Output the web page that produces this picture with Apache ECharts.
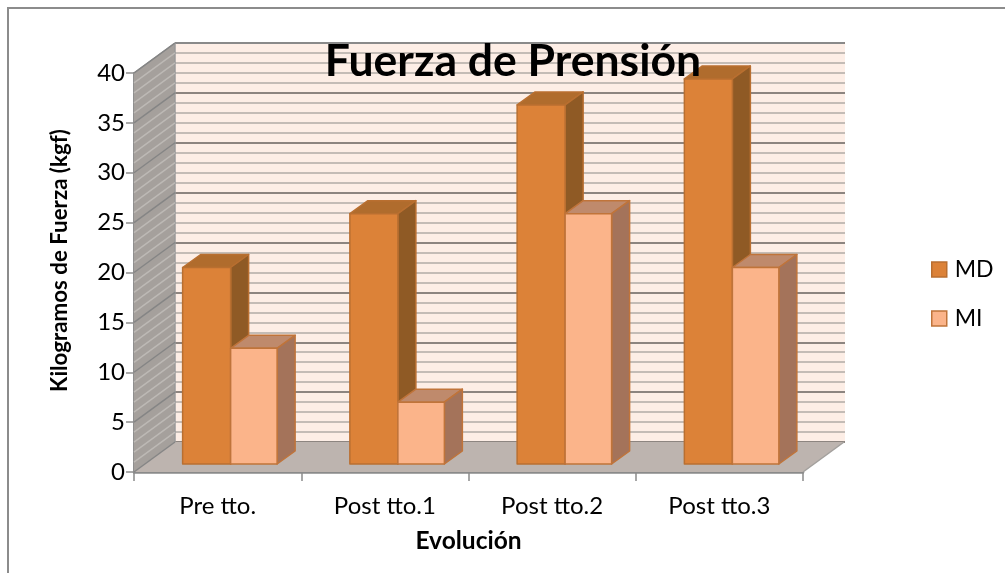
<!DOCTYPE html>
<html>
<head>
<meta charset="utf-8">
<style>
  html,body{margin:0;padding:0;background:#fff;}
  #chart{width:1005px;height:573px;}
</style>
</head>
<body>
<div id="chart"></div>
<script src="https://cdn.jsdelivr.net/npm/echarts@6/dist/echarts.min.js"></script>
<script>
const categories = ['Pre tto.', 'Post tto.1', 'Post tto.2', 'Post tto.3'];
const mdValues = [19.7, 25.1, 36, 38.6];
const miValues = [11.6, 6.2, 25.1, 19.7];
const wallLevels = [0,1,2,3,4,5,6,7,8,9,10,11,12,13,14,15,16,17,18,19,20,21,22,23,24,25,26,27,28,29,30,31,32,33,34,35,36,37,38,39,40];

const fontName = 'Lato';
// how far the back wall and the bars sit behind the front plane, in px
const wallDx = 41, wallDy = -30;
const barDx = 13, barDy = -8;
const sideDx = 18, sideDy = -13;

const chart = echarts.init(document.getElementById('chart'));

function barItem(isLeft, widthPart, colors){
  return function(params, api){
    const cat = api.value(0);
    const top = api.coord([cat, api.value(1)]);
    const base = api.coord([cat, 0]);
    const w = api.size([1, 0])[0] * widthPart;
    const x0 = top[0] + barDx - (isLeft ? w : 0);
    const x1 = x0 + w;
    const yt = top[1] + barDy;
    const yb = base[1] + barDy;
    const line = {stroke: colors.border, lineWidth: 1.5, lineJoin: 'round'};
    return {
      type: 'group',
      children: [
        {type: 'polygon', shape: {points: [[x0,yt],[x1,yt],[x1+sideDx,yt+sideDy],[x0+sideDx,yt+sideDy]]},
          style: Object.assign({fill: colors.top}, line)},
        {type: 'polygon', shape: {points: [[x1,yt],[x1+sideDx,yt+sideDy],[x1+sideDx,yb+sideDy],[x1,yb]]},
          style: Object.assign({fill: colors.side}, line)},
        {type: 'rect', shape: {x: x0, y: yt, width: w, height: yb-yt},
          style: Object.assign({fill: colors.front}, line)}
      ]
    };
  };
}

// side wall and floor, one per chart
function frameItem(params, api){
  const band = api.size([1, 0])[0];
  const a = api.coord([0, 0]);
  const b = api.coord([0, 40]);
  const left = a[0] - band / 2;
  const right = left + band * categories.length;
  const y0 = a[1], y1 = b[1];
  return {
    type: 'group',
    children: [
      {type: 'polygon', shape: {points: [[left,y1],[left+wallDx,y1+wallDy],[left+wallDx,y0+wallDy],[left,y0]]},
        style: {fill: '#a5a09c'}},
      {type: 'polygon', shape: {points: [[left,y0],[left+wallDx,y0+wallDy],[right+wallDx,y0+wallDy],[right,y0]]},
        style: {fill: '#bdb4af'}},
      {type: 'line', shape: {x1: right, y1: y0, x2: right+wallDx, y2: y0+wallDy},
        style: {stroke: '#a3a09d', lineWidth: 1.5}},
      {type: 'line', shape: {x1: left, y1: y1, x2: left+wallDx, y2: y1+wallDy},
        style: {stroke: '#8f8f8f', lineWidth: 1.5}},
      {type: 'line', shape: {x1: left+wallDx, y1: y1+wallDy, x2: right+wallDx, y2: y1+wallDy},
        style: {stroke: '#8a8a8a', lineWidth: 2}},
      {type: 'line', shape: {x1: left+wallDx, y1: y1+wallDy, x2: left+wallDx, y2: y0+wallDy},
        style: {stroke: '#9a9a9a', lineWidth: 1.5}}
    ]
  };
}

// stripes on the side wall, same levels as the back wall
function stripeItem(params, api){
  const band = api.size([1, 0])[0];
  const v = api.value(0);
  const p = api.coord([0, v]);
  const left = p[0] - band / 2;
  const major = v % 5 === 0;
  return {
    type: 'line',
    shape: {x1: left, y1: p[1], x2: left+wallDx, y2: p[1]+wallDy},
    style: {stroke: major ? '#858585' : '#bdb9b5', lineWidth: 1.5}
  };
}

const option = {
  animation: false,
  backgroundColor: '#ffffff',
  textStyle: {fontFamily: fontName},
  title: {
    text: 'Fuerza de Prensión',
    left: 508, top: 34, textAlign: 'center',
    z: 20,
    textStyle: {fontFamily: fontName, fontSize: 44.5, fontWeight: 'bold', color: '#000'}
  },
  legend: {
    orient: 'vertical',
    left: 926, top: 253,
    itemWidth: 15, itemHeight: 15, itemGap: 26,
    icon: 'rect',
    textStyle: {fontFamily: fontName, fontSize: 23, color: '#000', padding: [0, 0, 0, 3]},
    data: [
      {name: 'MD', itemStyle: {color: '#dc8238', borderColor: '#b96f30', borderWidth: 1.5}},
      {name: 'MI', itemStyle: {color: '#fbb48a', borderColor: '#c0743a', borderWidth: 1.5}}
    ]
  },
  grid: [
    {left: 134, top: 73, width: 669, height: 399},
    {left: 175, top: 43, width: 670, height: 399, show: true, backgroundColor: '#fdeee6', borderWidth: 0, z: 0}
  ],
  xAxis: [
    {
      type: 'category', gridIndex: 0, data: categories,
      name: 'Evolución', nameLocation: 'middle', nameGap: 57,
      nameTextStyle: {fontFamily: fontName, fontSize: 24.5, fontWeight: 'bold', color: '#000'},
      axisLine: {lineStyle: {color: '#8a8a8a', width: 2.5}},
      axisTick: {show: true, length: 9, lineStyle: {color: '#8a8a8a', width: 1.5}},
      axisLabel: {fontFamily: fontName, fontSize: 24, color: '#000', margin: 22, interval: 0}
    },
    {type: 'value', gridIndex: 1, min: 0, max: 1, show: false}
  ],
  yAxis: [
    {
      type: 'value', gridIndex: 0, min: 0, max: 40, interval: 5,
      name: 'Kilogramos de Fuerza (kgf)', nameLocation: 'middle', nameGap: 63, nameRotate: 90,
      nameTextStyle: {fontFamily: fontName, fontSize: 22.3, fontWeight: 'bold', color: '#000', padding: [0, 0, 0, 24]},
      axisLine: {show: true, lineStyle: {color: '#8f8f8f', width: 2}},
      axisTick: {show: true, length: 8, lineStyle: {color: '#8f8f8f', width: 1.5}},
      axisLabel: {fontFamily: fontName, fontSize: 24, color: '#000', margin: 9},
      splitLine: {show: false}
    },
    {
      type: 'value', gridIndex: 1, min: 0, max: 40, interval: 5,
      axisLine: {show: false}, axisTick: {show: false}, axisLabel: {show: false},
      splitLine: {show: true, lineStyle: {color: '#8d8580', width: 2}},
      minorTick: {show: false, splitNumber: 5},
      minorSplitLine: {show: true, lineStyle: {color: '#c4bcb6', width: 2}}
    }
  ],
  graphic: [
    {type: 'polyline', z: 1, shape: {points: [[8,573],[8,8],[1005,8]]},
      style: {fill: 'none', stroke: '#8c8c8c', lineWidth: 2}}
  ],
  series: [
    {
      type: 'custom', name: 'frame', xAxisIndex: 0, yAxisIndex: 0, z: 2, silent: true,
      data: [[0, 0]], renderItem: frameItem, clip: false
    },
    {
      type: 'custom', name: 'stripes', xAxisIndex: 0, yAxisIndex: 0, z: 3, silent: true,
      encode: {x: 1, y: 0},
      data: wallLevels.map(v => [v, 0]), renderItem: stripeItem, clip: false
    },
    {
      type: 'custom', name: 'MD', xAxisIndex: 0, yAxisIndex: 0, z: 5, clip: false,
      itemStyle: {color: '#dc8238'},
      data: mdValues.map((v, i) => [i, v]),
      renderItem: barItem(true, 0.287, {front: '#dc8238', side: '#8f5a25', top: '#b06c2d', border: '#b96f30'})
    },
    {
      type: 'custom', name: 'MI', xAxisIndex: 0, yAxisIndex: 0, z: 6, clip: false,
      itemStyle: {color: '#fbb48a'},
      data: miValues.map((v, i) => [i, v]),
      renderItem: barItem(false, 0.278, {front: '#fbb48a', side: '#a4735a', top: '#bf8a6c', border: '#c0743a'})
    }
  ]
};

chart.setOption(option);
</script>
</body>
</html>
